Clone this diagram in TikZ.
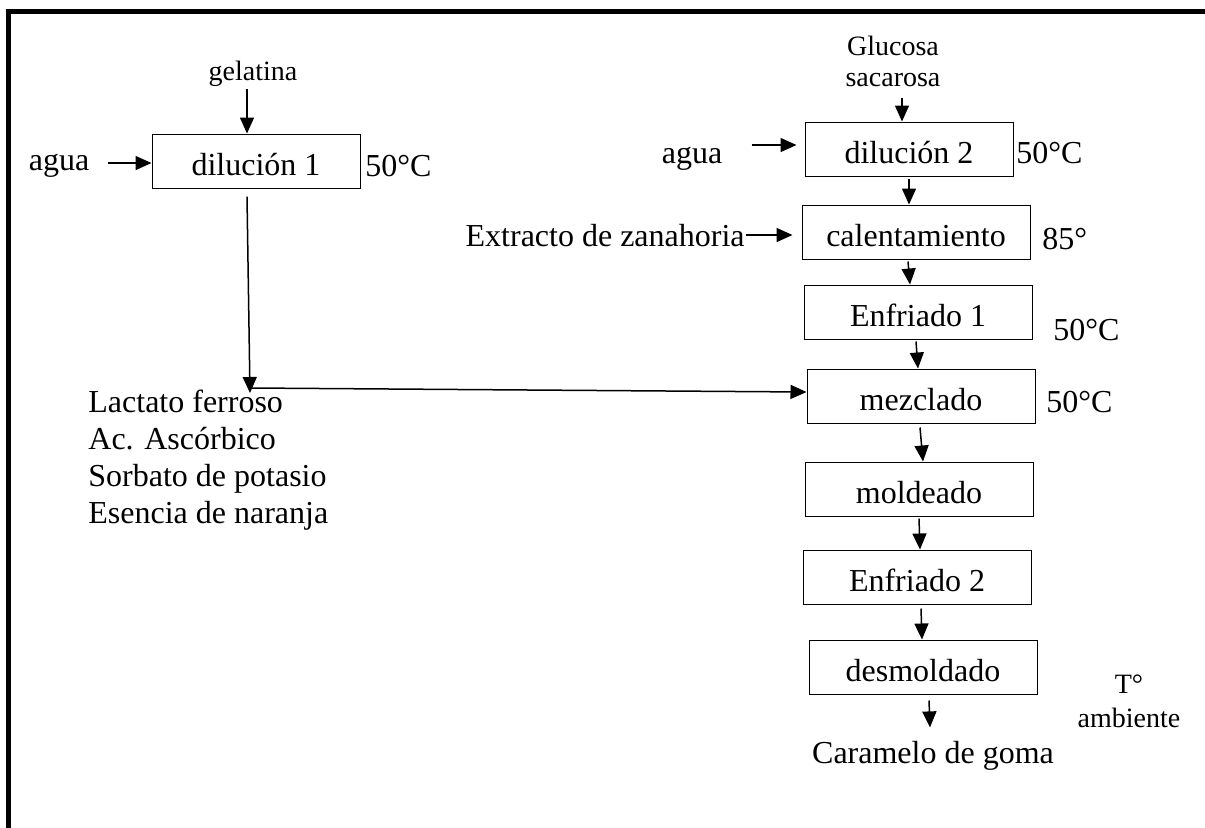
\documentclass[tikz,border=0pt]{standalone}
\usepackage{fontspec}
\setmainfont{Liberation Serif}
\usepackage{tikz}
\usetikzlibrary{positioning, arrows.meta}

\begin{document}
\begin{tikzpicture}[
    x=0.5pt, y=-0.5pt,
    stepbox/.style={rectangle, draw, line width=0.5pt, minimum width=114pt, minimum height=27pt, inner sep=0pt,
        text height=14.4pt, text depth=0pt, font=\fontsize{16}{19}\selectfont},
    dilbox/.style={stepbox, minimum width=104pt},
    txt/.style={inner sep=0pt, font=\fontsize{16}{19}\selectfont},
    smalltxt/.style={inner sep=0pt, align=center, font=\fontsize{14}{15.5}\selectfont},
    flow/.style={-{Triangle[length=8pt, width=7pt]}, line width=0.75pt}
]
\useasboundingbox (0,0) rectangle (1205,827);

% Frame
\draw[line width=2.5pt] (8.5,860) -- (8.5,11.5) -- (1230,11.5);

% Left branch
\node[smalltxt, anchor=base] (gel) at (253,80) {gelatina};
\node[dilbox] (dil1) at (256,161) {dilución 1};
\node[txt, anchor=base] (agua1) at (59,170) {agua};
\node[txt, anchor=base west] (t1) at (365,176) {50°C};
\node[txt, align=left, anchor=north west, font=\fontsize{16}{18.5}\selectfont] (lac) at (88,390)
    {Lactato ferroso\\Ac. Ascórbico\\Sorbato de potasio\\Esencia de naranja};
\coordinate (join) at (250,393);

% Right branch
\node[smalltxt, anchor=north] (gs) at (893,36) {Glucosa\\sacarosa};
\node[dilbox] (dil2) at (909,149) {dilución 2};
\node[txt, anchor=base] (agua2) at (692,163) {agua};
\node[txt, anchor=base west] (t2) at (1016,163) {50°C};
\node[txt, anchor=base east] (ext) at (745,246) {Extracto de zanahoria};
\node[stepbox] (cal) at (916,232) {calentamiento};
\node[txt, anchor=base west] (t3) at (1042,249) {85°};
\node[stepbox] (enf1) at (918,312) {Enfriado 1};
\node[txt, anchor=base west] (t4) at (1053,340) {50°C};
\node[stepbox] (mez) at (921,396) {mezclado};
\node[txt, anchor=base west] (t5) at (1046,412) {50°C};
\node[stepbox] (mol) at (919,489) {moldeado};
\node[stepbox] (enf2) at (917,577) {Enfriado 2};
\node[stepbox] (des) at (923,667) {desmoldado};
\node[txt, anchor=base] (car) at (933,763) {Caramelo de goma};
\node[smalltxt, anchor=north, font=\fontsize{14}{17}\selectfont] (tamb) at (1129,674) {T°\\ambiente};

% Arrows
\draw[flow] ([xshift=-3pt,yshift=-1.5pt]gel.south) -- ([xshift=-4.5pt]dil1.north);
\draw[flow] ([xshift=-22pt,yshift=-1pt]dil1.west) -- ([yshift=-1pt]dil1.west);
\draw[flow] ([xshift=-4.5pt,yshift=-4pt]dil1.south) -- (join);
\draw[flow] ([xshift=1pt,yshift=2.5pt]join) -- ([yshift=2pt]mez.west);
\draw[flow] ([xshift=4.5pt,yshift=-5pt]gs.south) -- ([xshift=-3.5pt]dil2.north);
\draw[flow] ([xshift=-26.5pt,yshift=2pt]dil2.west) -- ([xshift=-4pt,yshift=2pt]dil2.west);
\draw[flow] ([xshift=-28pt,yshift=-1.5pt]cal.west) -- ([xshift=-4.5pt,yshift=-1.5pt]cal.west);
\draw[flow] ([yshift=-1pt]dil2.south) -- ([xshift=-3.5pt]cal.north);
\draw[flow] ([xshift=-4pt,yshift=-1pt]cal.south) -- ([xshift=-4pt]enf1.north);
\draw[flow] ([xshift=-1pt,yshift=-1pt]enf1.south) -- ([xshift=-1.5pt]mez.north);
\draw[flow] ([xshift=-0.5pt,yshift=-2pt]mez.south) -- ([xshift=2pt]mol.north);
\draw[flow] ([yshift=-1pt]mol.south) -- ([xshift=1.5pt]enf2.north);
\draw[flow] ([xshift=2pt,yshift=-2pt]enf2.south) -- ([xshift=-0.5pt]des.north);
\draw[flow] ([xshift=3pt,yshift=-3pt]des.south) -- ([xshift=-1.5pt,yshift=6.5pt]car.north);

\end{tikzpicture}
\end{document}
